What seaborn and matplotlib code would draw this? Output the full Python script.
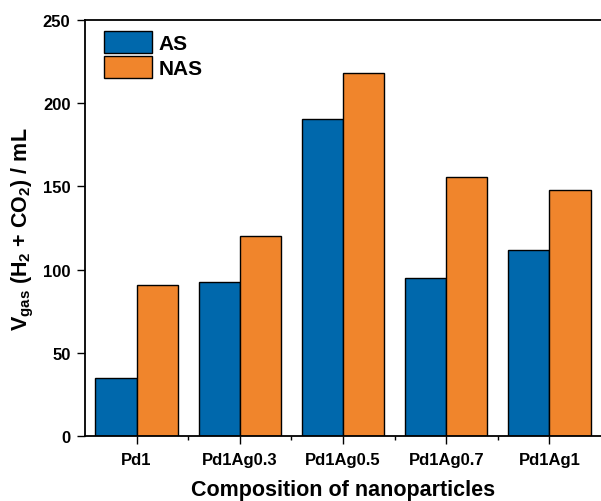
import numpy as np
import pandas as pd
import matplotlib
matplotlib.use('Agg')
import matplotlib.pyplot as plt
import seaborn as sns
from matplotlib.ticker import FixedLocator

compositions = ['Pd1', 'Pd1Ag0.3', 'Pd1Ag0.5', 'Pd1Ag0.7', 'Pd1Ag1']
as_values = [35.0, 92.7, 190.7, 95.1, 111.6]
nas_values = [91.0, 120.0, 218.0, 155.5, 148.0]
series_names = ['AS', 'NAS']
colors = ['#0068AC', '#F0852C']

df = pd.DataFrame({
    'composition': compositions * 2,
    'volume': as_values + nas_values,
    'series': [series_names[0]] * len(compositions) + [series_names[1]] * len(compositions),
})

sns.set_style('ticks')
plt.rcParams['font.family'] = ['Liberation Sans', 'DejaVu Sans']
plt.rcParams['font.weight'] = 'bold'
plt.rcParams['text.color'] = 'black'
plt.rcParams['axes.labelcolor'] = 'black'
plt.rcParams['xtick.color'] = 'black'
plt.rcParams['ytick.color'] = 'black'
plt.rcParams['mathtext.fontset'] = 'custom'
plt.rcParams['mathtext.rm'] = 'Liberation Sans:bold'
plt.rcParams['mathtext.it'] = 'Liberation Sans:bold'
plt.rcParams['mathtext.bf'] = 'Liberation Sans:bold'
plt.rcParams['mathtext.default'] = 'rm'

fig = plt.figure(figsize=(6.01, 5.02), dpi=100)
ax = fig.add_axes([85 / 601, 1 - 437 / 502, 1 - 85 / 601, (437 - 21) / 502])

sns.barplot(data=df, x='composition', y='volume', hue='series', palette=colors,
            saturation=1, width=0.8, edgecolor='black', linewidth=1.0, ax=ax)

ax.set_xlim(-0.5, 4.5)
ax.set_ylim(0, 250)
ax.set_yticks([0, 50, 100, 150, 200, 250])
ax.xaxis.set_minor_locator(FixedLocator([0.5, 1.5, 2.5, 3.5]))
ax.tick_params(axis='both', which='major', direction='out', length=5.5, width=1.0,
               labelsize=12, colors='black')
ax.tick_params(axis='x', which='major', pad=6)
ax.tick_params(axis='y', which='major', pad=5)
ax.tick_params(axis='x', which='minor', direction='out', length=3, width=1.0, colors='black')
for lab in ax.get_xticklabels() + ax.get_yticklabels():
    lab.set_fontweight('bold')
for sp in ax.spines.values():
    sp.set_linewidth(1.3)
    sp.set_color('black')
    sp.set_visible(True)
ax.spines['right'].set_visible(False)

# the original figure's x label sits right on the bottom edge
ax.set_xlabel('Composition of nanoparticles', fontsize=15.5, fontweight='bold', labelpad=9)
ax.set_ylabel('V$_{gas}$ (H$_2$ + CO$_2$) / mL', fontsize=15.5, fontweight='bold', labelpad=5)

leg = ax.legend(loc='upper left', bbox_to_anchor=(19 / 516, 1 - 11 / 416), borderaxespad=0,
                borderpad=0, frameon=False, title=None, prop={'size': 15, 'weight': 'bold'},
                handlelength=2.3, handleheight=1.25, handletextpad=0.3, labelspacing=0.15)
for t in leg.get_texts():
    t.set_color('black')

fig.savefig('out.png', dpi=100)
